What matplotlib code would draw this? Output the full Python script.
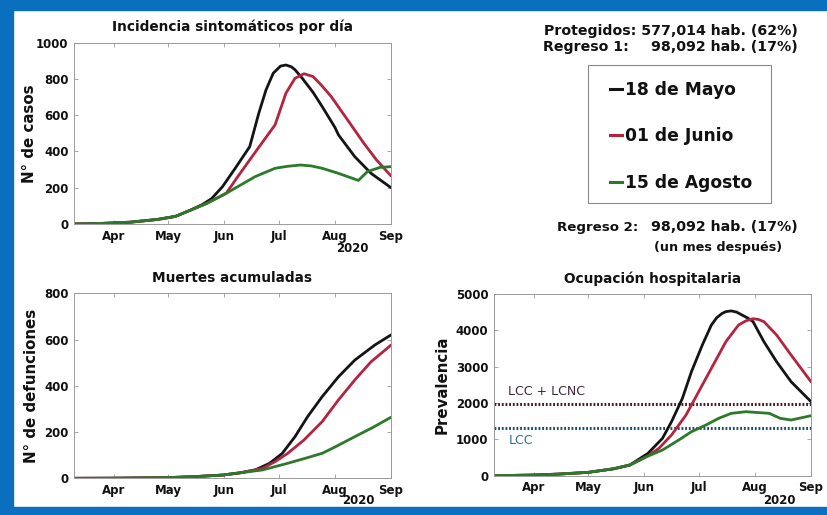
import matplotlib
matplotlib.use('Agg')
import matplotlib.pyplot as plt
import matplotlib.dates as mdates
from matplotlib.lines import Line2D
from matplotlib.patches import Rectangle
import pandas as pd

plt.rcParams['font.family'] = ['DejaVu Sans']

# ---------------- data ----------------
series_labels = ['18 de Mayo', '01 de Junio', '15 de Agosto']
series_colors = ['#141414', '#b3243f', '#2b7a2b']

# Incidencia sintomáticos por día
inc_black_dates = ['2020-03-10', '2020-03-25', '2020-04-10', '2020-04-25', '2020-05-05',
                   '2020-05-13', '2020-05-20', '2020-05-25', '2020-05-31', '2020-06-07',
                   '2020-06-15', '2020-06-20', '2020-06-24', '2020-06-28', '2020-07-02',
                   '2020-07-05', '2020-07-08', '2020-07-10', '2020-07-14', '2020-07-20',
                   '2020-07-25', '2020-08-01', '2020-08-03', '2020-08-12', '2020-08-21',
                   '2020-09-01']
inc_black = [0, 3, 10, 25, 42, 75, 108, 140, 206, 307, 426, 610, 739, 831, 870,
             876, 866, 850, 803, 725, 647, 533, 491, 371, 279, 200]

inc_red_dates = ['2020-03-10', '2020-03-25', '2020-04-10', '2020-04-25', '2020-05-05',
                 '2020-05-13', '2020-05-22', '2020-06-02', '2020-06-08', '2020-06-15',
                 '2020-06-22', '2020-06-29', '2020-07-05', '2020-07-10', '2020-07-15',
                 '2020-07-20', '2020-07-25', '2020-07-30', '2020-08-08', '2020-08-17',
                 '2020-08-24', '2020-09-01']
inc_red = [0, 3, 10, 25, 42, 75, 112, 169, 255, 353, 450, 546, 721, 803, 828,
           812, 760, 702, 574, 445, 353, 265]

inc_green_dates = ['2020-03-10', '2020-03-25', '2020-04-10', '2020-04-25', '2020-05-05',
                   '2020-05-13', '2020-05-22', '2020-06-02', '2020-06-10', '2020-06-18',
                   '2020-06-29', '2020-07-06', '2020-07-13', '2020-07-19', '2020-07-25',
                   '2020-08-03', '2020-08-14', '2020-08-19', '2020-08-26', '2020-09-01']
inc_green = [0, 3, 10, 25, 42, 75, 112, 169, 215, 261, 307, 318, 325, 320, 307,
             279, 240, 289, 312, 316]

# Muertes acumuladas
dea_black_dates = ['2020-03-10', '2020-04-01', '2020-05-01', '2020-05-15', '2020-05-31',
                   '2020-06-10', '2020-06-18', '2020-06-26', '2020-07-03', '2020-07-10',
                   '2020-07-17', '2020-07-25', '2020-08-03', '2020-08-12', '2020-08-23',
                   '2020-09-01']
dea_black = [0, 0.5, 3, 7, 14, 24, 36, 65, 108, 180, 267, 353, 439, 511, 576, 620]

dea_red_dates = ['2020-03-10', '2020-04-01', '2020-05-01', '2020-05-15', '2020-05-31',
                 '2020-06-10', '2020-06-22', '2020-06-29', '2020-07-06', '2020-07-15',
                 '2020-07-25', '2020-08-03', '2020-08-12', '2020-08-21', '2020-09-01']
dea_red = [0, 0.5, 3, 7, 14, 24, 43, 72, 108, 166, 245, 339, 425, 504, 576]

dea_green_dates = ['2020-03-10', '2020-04-01', '2020-05-01', '2020-05-15', '2020-05-31',
                   '2020-06-10', '2020-06-22', '2020-07-06', '2020-07-15', '2020-07-25',
                   '2020-08-01', '2020-08-12', '2020-08-22', '2020-09-01']
dea_green = [0, 0.5, 3, 7, 14, 24, 36, 65, 85, 108, 135, 180, 220, 264]

# Ocupación hospitalaria
hos_black_dates = ['2020-03-10', '2020-04-01', '2020-04-15', '2020-05-01', '2020-05-15',
                   '2020-05-24', '2020-06-03', '2020-06-11', '2020-06-16', '2020-06-22',
                   '2020-06-27', '2020-07-03', '2020-07-08', '2020-07-11', '2020-07-14',
                   '2020-07-16', '2020-07-19', '2020-07-22', '2020-07-25', '2020-07-28',
                   '2020-07-31', '2020-08-06', '2020-08-13', '2020-08-21', '2020-09-01']
hos_black = [0, 18, 45, 92, 190, 294, 615, 1028, 1486, 2128, 2862, 3596, 4147, 4350,
             4468, 4515, 4535, 4500, 4420, 4340, 4239, 3688, 3138, 2587, 2037]

hos_red_dates = ['2020-03-10', '2020-04-01', '2020-04-15', '2020-05-01', '2020-05-15',
                 '2020-05-24', '2020-06-03', '2020-06-09', '2020-06-16', '2020-06-24',
                 '2020-07-01', '2020-07-08', '2020-07-16', '2020-07-23', '2020-07-27',
                 '2020-07-31', '2020-08-03', '2020-08-06', '2020-08-13', '2020-08-21',
                 '2020-09-01']
hos_red = [0, 18, 45, 92, 190, 294, 545, 752, 1119, 1670, 2312, 2954, 3688, 4147,
           4260, 4320, 4300, 4239, 3872, 3321, 2587]

hos_green_dates = ['2020-03-10', '2020-04-01', '2020-04-15', '2020-05-01', '2020-05-15',
                   '2020-05-24', '2020-06-03', '2020-06-11', '2020-06-20', '2020-06-27',
                   '2020-07-05', '2020-07-12', '2020-07-19', '2020-07-27', '2020-08-09',
                   '2020-08-15', '2020-08-21', '2020-09-01']
hos_green = [0, 18, 45, 92, 190, 294, 540, 706, 982, 1211, 1394, 1578, 1716, 1761,
             1716, 1578, 1532, 1651]

lcc_lcnc_level = 1970
lcc_level = 1300

# ---------------- figure ----------------
W, H = 827, 515
fig = plt.figure(figsize=(W / 100, H / 100), dpi=100)
fig.patch.set_facecolor('white')


def ax_px(x0, y0, x1, y1):
    return fig.add_axes([x0 / W, 1 - y1 / H, (x1 - x0) / W, (y1 - y0) / H])


def style(ax, ymax, ystep, title, ylabel, ylab_x):
    ax.set_xlim(pd.Timestamp('2020-03-10'), pd.Timestamp('2020-09-01'))
    ax.set_ylim(0, ymax)
    ax.set_yticks(range(0, ymax + 1, ystep))
    ax.xaxis.set_major_locator(mdates.MonthLocator())
    ax.xaxis.set_major_formatter(mdates.DateFormatter('%b'))
    ax.tick_params(direction='in', length=3, width=0.6, color='#9a9a9a',
                   top=True, right=True, labelsize=8.5, pad=4, labelcolor='#111111')
    for lab in ax.get_xticklabels() + ax.get_yticklabels():
        lab.set_fontweight('bold')
    for sp in ax.spines.values():
        sp.set_color('#9a9a9a')
        sp.set_linewidth(0.7)
    ax.set_title(title, fontsize=9.8, fontweight='bold', pad=8, color='#111111')
    ax.set_ylabel(ylabel, fontsize=10.8, fontweight='bold', color='#111111')
    ax.yaxis.set_label_coords(ylab_x, 0.5)


def plot_series(ax, dates_list, values_list):
    for d, v, c in zip(dates_list, values_list, series_colors):
        ax.plot(pd.to_datetime(d), v, color=c, lw=2.0, solid_capstyle='round',
                solid_joinstyle='round')


ax1 = ax_px(74, 42.5, 391, 224)
ax2 = ax_px(74, 293.3, 391, 478.3)
ax3 = ax_px(494, 294, 811, 475.7)

plot_series(ax1, [inc_black_dates, inc_red_dates, inc_green_dates],
            [inc_black, inc_red, inc_green])
plot_series(ax2, [dea_black_dates, dea_red_dates, dea_green_dates],
            [dea_black, dea_red, dea_green])
ax3.axhline(lcc_lcnc_level, color='#4a1c2c', lw=2.2, ls=(0, (0.6, 0.6)), dash_capstyle='butt')
ax3.axhline(lcc_level, color='#1e4f6e', lw=2.2, ls=(0, (0.6, 0.6)), dash_capstyle='butt')
plot_series(ax3, [hos_black_dates, hos_red_dates, hos_green_dates],
            [hos_black, hos_red, hos_green])

style(ax1, 1000, 200, 'Incidencia sintomáticos por día', 'N° de casos', -0.117)
style(ax2, 800, 200, 'Muertes acumuladas', 'N° de defunciones', -0.111)
style(ax3, 5000, 1000, 'Ocupación hospitalaria', 'Prevalencia', -0.139)

ax3.text(pd.Timestamp('2020-03-18'), lcc_lcnc_level + 160, 'LCC + LCNC', fontsize=9,
         color='#3a2838', va='bottom', ha='left')
ax3.text(pd.Timestamp('2020-03-18'), lcc_level - 160, 'LCC', fontsize=9,
         color='#2f6f8f', va='top', ha='left')

# year labels
yr_kw = dict(fontsize=8.5, fontweight='bold', ha='center', va='center', color='#111111')
fig.text(352 / W, 1 - 248 / H, '2020', **yr_kw)
fig.text(358 / W, 1 - 500 / H, '2020', **yr_kw)
fig.text(779 / W, 1 - 500 / H, '2020', **yr_kw)

# annotations top right
txt_kw = dict(fontsize=10.2, fontweight='bold', va='center', color='#111111')
fig.text(798 / W, 1 - 31 / H, 'Protegidos: 577,014 hab. (62%)', ha='right', **txt_kw)
fig.text(543 / W, 1 - 47 / H, 'Regreso 1:', ha='left', **txt_kw)
fig.text(798 / W, 1 - 47 / H, '98,092 hab. (17%)', ha='right', **txt_kw)
fig.text(557 / W, 1 - 227 / H, 'Regreso 2:', ha='left', fontsize=9.6, fontweight='bold',
         va='center', color='#111111')
fig.text(798 / W, 1 - 227 / H, '98,092 hab. (17%)', ha='right', **txt_kw)
fig.text(718 / W, 1 - 248 / H, '(un mes después)', ha='center', fontsize=9.2,
         fontweight='bold', va='center', color='#111111')

# legend (frame drawn separately to match padding)
fig.add_artist(Rectangle((588 / W, 1 - 203 / H), (771 - 588) / W, (203 - 65) / H,
                         transform=fig.transFigure, fill=False, edgecolor='#8a8a8a',
                         linewidth=0.8))
handles = [Line2D([], [], color=c, lw=2.2) for c in series_colors]
leg = fig.legend(handles, series_labels, loc='upper left',
                 bbox_to_anchor=(594 / W, 1 - 65 / H), bbox_transform=fig.transFigure,
                 borderaxespad=0, frameon=False,
                 prop=dict(weight='bold', size=12.3), handlelength=0.7, handletextpad=0.15,
                 labelspacing=1.65, borderpad=0.95)
for t in leg.get_texts():
    t.set_color('#111111')

# blue frame
blue = '#0b6fc0'
fig.add_artist(Rectangle((0, 0), 13 / W, 1, transform=fig.transFigure, color=blue, zorder=10))
fig.add_artist(Rectangle((0, 1 - 10 / H), 1, 10 / H, transform=fig.transFigure, color=blue, zorder=10))
fig.add_artist(Rectangle((0, 0), 1, 8 / H, transform=fig.transFigure, color=blue, zorder=10))

fig.savefig('out.png', dpi=100, facecolor='white')
